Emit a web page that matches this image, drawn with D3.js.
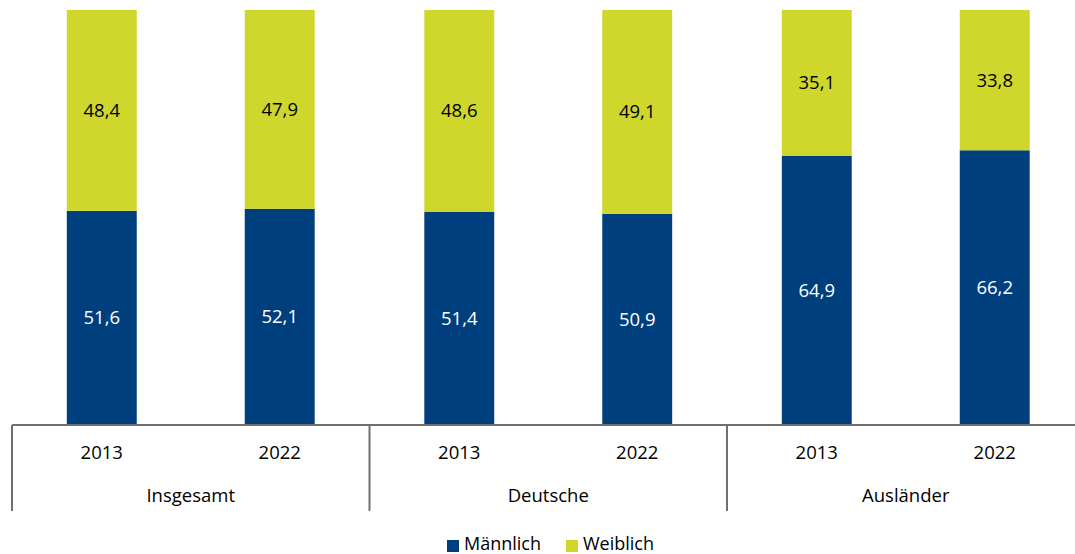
<!DOCTYPE html>
<html>
<head>
<meta charset="utf-8">
<script src="https://cdn.jsdelivr.net/npm/d3@7"></script>
<style>
  body { margin: 0; background: #fff; }
  .content { width: 1075px; height: 554px; }
  text { font-family: "Open Sans", "Noto Sans", sans-serif; }
</style>
</head>
<body>
<div class="content"></div>
<script>
var groups = ['Insgesamt', 'Deutsche', 'Ausländer'];
var years = ['2013', '2022'];
var maennlich = [51.6, 52.1, 51.4, 50.9, 64.9, 66.2];
var weiblich = [48.4, 47.9, 48.6, 49.1, 35.1, 33.8];
var seriesNames = ['Männlich', 'Weiblich'];
var colors = ['#003f7d', '#cfd62c'];

var data = [];
groups.forEach(function(g, gi) {
  years.forEach(function(yr, yi) {
    var i = gi * years.length + yi;
    data.push({ group: g, year: yr, m: maennlich[i], w: weiblich[i] });
  });
});

var svg = d3.select('.content')
  .append('svg')
  .attr('width', 1075)
  .attr('height', 554);

var plotLeft = 12, groupW = 357.5, plotTop = 10, plotBottom = 425;
var fontSize = '18.5px';

var xg = d3.scaleBand()
  .domain(groups)
  .range([plotLeft, plotLeft + groupW * groups.length]);

var xy = d3.scaleBand()
  .domain(years)
  .range([0, xg.bandwidth()])
  .paddingInner(0.607)
  .paddingOuter(0.308);

var y = d3.scaleLinear().domain([0, 100]).range([plotBottom, plotTop]);

var bars = svg.append('g').selectAll('g')
  .data(data)
  .enter()
  .append('g')
  .attr('transform', function(d) {
    return 'translate(' + (xg(d.group) + xy(d.year)) + ',0)';
  });

bars.append('rect')
  .attr('y', function(d) { return y(d.m); })
  .attr('width', xy.bandwidth())
  .attr('height', function(d) { return y(0) - y(d.m); })
  .attr('fill', colors[0]);

bars.append('rect')
  .attr('y', function(d) { return y(d.m + d.w); })
  .attr('width', xy.bandwidth())
  .attr('height', function(d) { return y(d.m) - y(d.m + d.w); })
  .attr('fill', colors[1]);

var fmt = function(v) { return d3.format('.1f')(v).replace('.', ','); };

bars.append('text')
  .attr('x', xy.bandwidth() / 2)
  .attr('y', function(d) { return y(d.m / 2); })
  .attr('dy', '0.35em')
  .attr('text-anchor', 'middle')
  .style('font-size', fontSize)
  .style('fill', '#fff')
  .text(function(d) { return fmt(d.m); });

bars.append('text')
  .attr('x', xy.bandwidth() / 2)
  .attr('y', function(d) { return y(d.m + d.w / 2); })
  .attr('dy', '0.35em')
  .attr('text-anchor', 'middle')
  .style('font-size', fontSize)
  .style('fill', '#000')
  .text(function(d) { return fmt(d.w); });

// axis
var axis = svg.append('g');
axis.append('line')
  .attr('x1', plotLeft).attr('x2', 1075)
  .attr('y1', plotBottom).attr('y2', plotBottom)
  .attr('stroke', '#707070').attr('stroke-width', 2);

axis.selectAll('.sep')
  .data(groups.concat(['end']))
  .enter()
  .append('line')
  .attr('x1', function(d, i) { return plotLeft + groupW * i; })
  .attr('x2', function(d, i) { return plotLeft + groupW * i; })
  .attr('y1', plotBottom).attr('y2', 511)
  .attr('stroke', '#707070').attr('stroke-width', 2);

axis.selectAll('.year')
  .data(data)
  .enter()
  .append('text')
  .attr('x', function(d) { return xg(d.group) + xy(d.year) + xy.bandwidth() / 2; })
  .attr('y', 453)
  .attr('dy', '0.35em')
  .attr('text-anchor', 'middle')
  .style('font-size', fontSize)
  .style('fill', '#000')
  .text(function(d) { return d.year; });

axis.selectAll('.grp')
  .data(groups)
  .enter()
  .append('text')
  .attr('x', function(d) { return xg(d) + xg.bandwidth() / 2; })
  .attr('y', 496)
  .attr('dy', '0.35em')
  .attr('text-anchor', 'middle')
  .style('font-size', fontSize)
  .style('fill', '#000')
  .text(function(d) { return d; });

// legend
var legendX = [447, 566];
var legend = svg.append('g').selectAll('g')
  .data(seriesNames)
  .enter()
  .append('g')
  .attr('transform', function(d, i) { return 'translate(' + legendX[i] + ',535)'; });

legend.append('rect')
  .attr('width', 12).attr('height', 12)
  .attr('y', 5)
  .attr('fill', function(d, i) { return colors[i]; });

legend.append('text')
  .attr('x', 17)
  .attr('y', 9)
  .attr('dy', '0.35em')
  .style('font-size', '18px')
  .style('fill', '#000')
  .text(function(d) { return d; });
</script>
</body>
</html>
